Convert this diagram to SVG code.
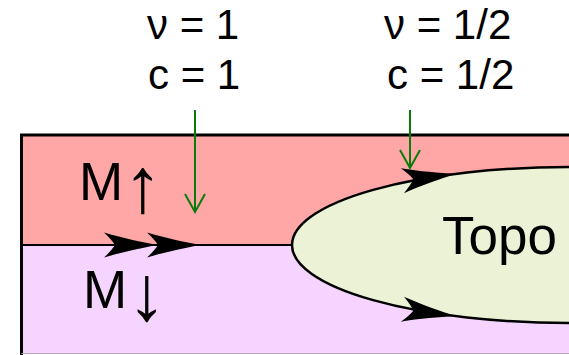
<svg xmlns="http://www.w3.org/2000/svg" xmlns:xlink="http://www.w3.org/1999/xlink" width="569" height="355" viewBox="0 0 569 355">
  <style>
    text { font-family: "Liberation Sans", Arial, "DejaVu Sans", sans-serif; fill: #000; }
    .lbl { font-size: 42px; }
    .big { font-size: 53px; }
    .arr { font-size: 78px; }
    .edge { fill: none; stroke: #000; }
    .green { fill: none; stroke: #0a7a0a; stroke-width: 2; }
    .ah { fill: #000; stroke: none; }
  </style>
  <defs>
    <path id="ah" d="M0,0 C-15,-3 -35,-7 -53,-12.5 Q-45,-5 -42,0 Q-45,5 -53,12.5 C-35,7 -15,3 0,0 Z"/>
  </defs>
  <rect width="569" height="355" fill="#fff"/>

  <g id="region-up">
    <rect x="21.5" y="135" width="560" height="110" fill="#ffa6a6"/>
    <text class="big" x="79" y="200">M<tspan class="arr" dy="12">↑</tspan></text>
  </g>
  <g id="region-down">
    <rect x="21.5" y="245" width="560" height="109" fill="#f5d5ff"/>
    <text class="big" x="83" y="308">M<tspan class="arr" dy="12">↓</tspan></text>
  </g>

  <g id="topo">
    <ellipse cx="569" cy="245" rx="277" ry="78" fill="#ecf2d6" stroke="#000" stroke-width="2.5"/>
    <text class="big" x="442" y="254">Topo</text>
  </g>

  <g id="frame">
    <path class="edge" d="M21.5,355 V135 H569" stroke-width="3"/>
    <line x1="21.5" y1="353.5" x2="569" y2="353.5" stroke="#b8a8bc" stroke-width="1"/>
  </g>

  <g id="connectors">
    <line class="edge" x1="21.5" y1="245" x2="292" y2="245" stroke-width="2"/>
    <use href="#ah" class="ah" transform="translate(157,245)"/>
    <use href="#ah" class="ah" transform="translate(200,245)"/>
    <use href="#ah" class="ah" transform="translate(455,174) rotate(-7.3)"/>
    <use href="#ah" class="ah" transform="translate(455,316) rotate(7.3)"/>
    <path class="green" d="M195,110 V212 M185,194 L195,212 L205,194"/>
    <path class="green" d="M410,110 V168 M400,150 L410,168 L420,150"/>
  </g>

  <g id="labels">
    <text class="lbl" x="147" y="39">ν = 1</text>
    <text class="lbl" x="148" y="89">c = 1</text>
    <text class="lbl" x="384" y="39">ν = 1/2</text>
    <text class="lbl" x="387" y="89">c = 1/2</text>
  </g>
</svg>
